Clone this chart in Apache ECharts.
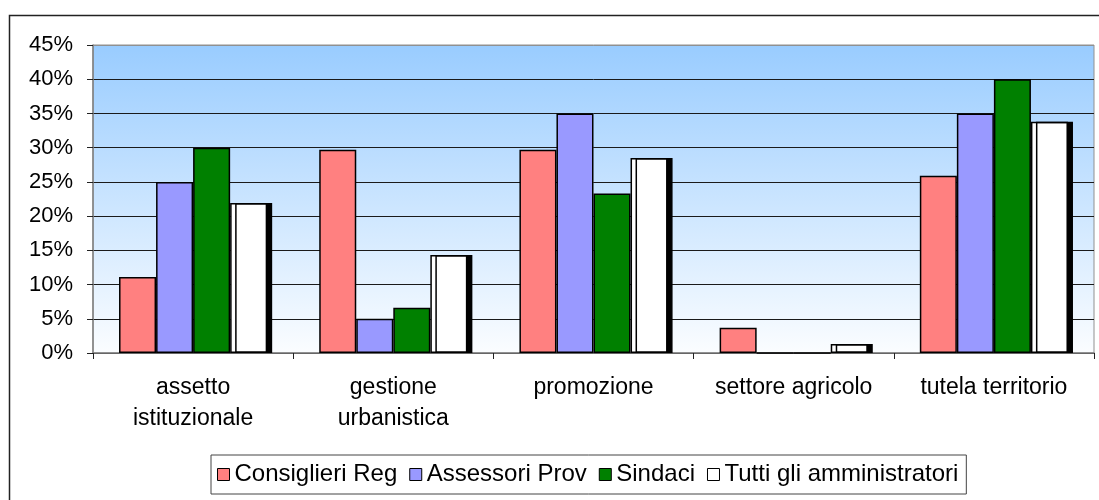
<!DOCTYPE html>
<html>
<head>
<meta charset="utf-8">
<script src="https://cdn.jsdelivr.net/npm/echarts@6/dist/echarts.min.js"></script>
<style>
  html, body { margin: 0; padding: 0; background: #fff; }
  #main { width: 1099px; height: 500px; }
</style>
</head>
<body>
<div id="main"></div>
<script>
// categorie
var categories = ['assetto\nistituzionale', 'gestione\nurbanistica', 'promozione', 'settore agricolo', 'tutela territorio']
// valori in %
var consiglieriReg = [11.1, 29.7, 29.7, 3.7, 25.9]
var assessoriProv = [25, 5, 35, 0, 35]
var sindaci = [30, 6.6, 23.3, 0, 40]
var tuttiAmm = [21.9, 14.3, 28.5, 1.3, 33.8]
var seriesNames = ['Consiglieri Reg', 'Assessori Prov', 'Sindaci', 'Tutti gli amministratori']

var font = 'Liberation Sans, Arial, sans-serif'

function barSeries (name, data, color, shadow) {
  var s = {
    name: name,
    type: 'bar',
    data: data,
    barGap: '0%',
    barCategoryGap: '26%',
    itemStyle: {
      color: color,
      borderColor: '#000',
      borderWidth: 1.5
    }
  }
  if (shadow) {
    // ombra nera a destra delle barre bianche
    s.itemStyle.shadowColor = '#000'
    s.itemStyle.shadowBlur = 0
    s.itemStyle.shadowOffsetX = 5
    s.itemStyle.shadowOffsetY = 0
  }
  return s
}

// linee della griglia: l'ultima (45%) grigia come il bordo
var splitColors = ['#1a1a1a', '#1a1a1a', '#1a1a1a', '#1a1a1a', '#1a1a1a', '#1a1a1a', '#1a1a1a', '#1a1a1a', '#1a1a1a', '#909090']

var option = {
  animation: false,
  textStyle: { fontFamily: font },
  graphic: [{
    type: 'rect',
    left: 7,
    top: 13,
    shape: { width: 1100, height: 500 },
    style: { fill: 'none', stroke: '#222', lineWidth: 1.5 },
    silent: true
  }],
  grid: {
    left: 93,
    right: 5,
    top: 45,
    bottom: 147,
    show: true,
    borderColor: '#909090',
    borderWidth: 1,
    backgroundColor: new echarts.graphic.LinearGradient(0, 0, 0, 1, [
      { offset: 0, color: '#99ccff' },
      { offset: 1, color: '#fbfdff' }
    ])
  },
  legend: {
    data: seriesNames,
    left: 211,
    top: 455,
    padding: [7, 8, 7, 6],
    borderColor: '#444',
    borderWidth: 1,
    itemWidth: 12,
    itemHeight: 12,
    itemGap: 12,
    icon: 'rect',
    itemStyle: { borderColor: '#000', borderWidth: 1, shadowBlur: 0, shadowOffsetX: 0, shadowOffsetY: 0, shadowColor: 'transparent' },
    textStyle: { fontFamily: font, fontSize: 24, color: '#000', lineHeight: 25 }
  },
  xAxis: {
    type: 'category',
    data: categories,
    axisLine: { lineStyle: { color: '#808080', width: 1.5 } },
    axisTick: { show: true, length: 6, lineStyle: { color: '#222' } },
    axisLabel: {
      fontFamily: font,
      fontSize: 23,
      color: '#000',
      lineHeight: 31,
      margin: 19,
      interval: 0
    }
  },
  yAxis: {
    type: 'value',
    min: 0,
    max: 45,
    interval: 5,
    axisLine: { show: true, lineStyle: { color: '#808080', width: 1.5 } },
    axisTick: { show: true, length: 6, lineStyle: { color: '#222' } },
    axisLabel: {
      formatter: '{value}%',
      fontFamily: font,
      fontSize: 22,
      color: '#000',
      margin: 20
    },
    splitLine: { show: true, lineStyle: { color: splitColors, width: 1 } }
  },
  series: [
    barSeries(seriesNames[0], consiglieriReg, '#ff8080', false),
    barSeries(seriesNames[1], assessoriProv, '#9999ff', false),
    barSeries(seriesNames[2], sindaci, '#008000', false),
    barSeries(seriesNames[3], tuttiAmm, '#ffffff', true)
  ]
}

var myChart = echarts.init(document.getElementById('main'))
myChart.setOption(option)
</script>
</body>
</html>
